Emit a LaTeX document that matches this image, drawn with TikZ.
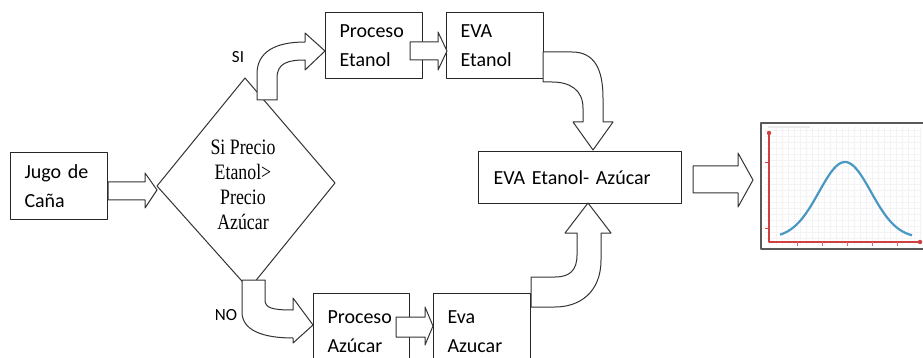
\documentclass[tikz,border=0pt]{standalone}
\usepackage{fontspec}
\setmainfont{Carlito}
\newfontfamily\timesfont{Liberation Serif}
\definecolor{axisred}{RGB}{208,64,64}
\definecolor{curveblue}{RGB}{72,152,195}
\definecolor{gridgray}{RGB}{243,243,246}
\begin{document}
\begin{tikzpicture}[x=1pt,y=-1pt,line join=round,
  box/.style={draw=black!85,line width=1pt,fill=white,align=left,inner xsep=14pt,
    anchor=north west,font=\fontsize{20}{29}\selectfont},
  fat/.style={draw=black!80,line width=1pt,fill=white},
  lbl/.style={font=\fontsize{17}{20}\selectfont,inner sep=0pt}]
\clip (0,0) rectangle (923,358);
\fill[white] (0,0) rectangle (923,358);

% process boxes
\node[box,text width=69pt,minimum height=67pt] (jugo) at (10,152) {Jugo de\\Caña};
\node[box,text width=69pt,minimum height=66pt] (proet) at (325,12) {Proceso\\Etanol};
\node[box,text width=69pt,minimum height=66pt] (evaet) at (446,12) {EVA\\Etanol};
\node[box,text width=68pt,minimum height=76pt] (proaz) at (313,293) {Proceso\\Azúcar};
\node[box,text width=69pt,minimum height=76pt] (evaaz) at (433,293) {Eva\\Azucar};
\node[box,inner xsep=15pt,text width=173pt,minimum height=52pt] (evatot) at (478,151) {EVA Etanol- Azúcar};

% decision diamond
\coordinate (dT) at (245,78);
\coordinate (dR) at (335,183);
\coordinate (dB) at (249,289);
\coordinate (dL) at (157,186);
\draw[draw=black!80,line width=1pt] (dT) -- (dR) -- (dB) -- (dL) -- cycle;
\node[align=center,inner sep=0pt,font=\timesfont\fontsize{22}{25}\selectfont] (cond) at (243,185)
  {\scalebox{0.81}[1]{Si Precio}\\\scalebox{0.81}[1]{Etanol>}\\
   \scalebox{0.81}[1]{Precio}\\\scalebox{0.81}[1]{Azúcar}};

% branch labels
\node[lbl] (si) at (238,57) {SI};
\node[lbl] (no) at (226,315) {NO};

% straight block arrows
\draw[fat] (jugo.east |- 0,182) -- (145,182) -- (145,173) -- (157,190) -- (145,208) -- (145,200) -- (jugo.east |- 0,200) -- cycle;
\draw[fat] (410,42) -- (438,42) -- (438,32) -- (447,51) -- (438,70) -- (438,60) -- (410,60) -- cycle;
\draw[fat] (396,317) -- (425,317) -- (425,307) -- (433,326) -- (425,345) -- (425,337) -- (396,337) -- cycle;
\draw[fat] (693,166) -- (738,166) -- (738,153) -- (753,180) -- (738,207) -- (738,193) -- (693,193) -- cycle;

% curved block arrows
\draw[fat] (257,100) -- (257,74) .. controls (257,52) and (275,42) .. (305,42)
  -- (305,33) -- (325,51) -- (305,70) -- (305,60)
  .. controls (288,60) and (277,63) .. (277,78) -- (277,100) -- cycle;
\draw[fat] (242,280) -- (265,280) -- (265,300) .. controls (265,308) and (272,310) .. (293,310)
  -- (293,298) -- (313,325) -- (293,343) -- (293,338)
  .. controls (262,338) and (242,330) .. (242,312) -- cycle;
\draw[fat] (543,52) -- (572,52) .. controls (595,52) and (603,70) .. (603,98) -- (603,122)
  -- (613,122) -- (593,150) -- (573,122) -- (583,122) -- (583,108)
  .. controls (583,90) and (570,82) .. (552,82) -- (543,82) -- cycle;
\draw[fat] (531,277) -- (555,277) .. controls (570,277) and (577,270) .. (577,255) -- (577,233)
  -- (565,233) -- (588,203) -- (611,233) -- (601,233) -- (601,260)
  .. controls (601,292) and (580,307) .. (555,307) -- (531,307) -- cycle;

% result chart: normal curve
\draw[draw=black!65,line width=2.2pt,fill=white] (761,123) rectangle (935,249);
\foreach \gx in {776,782,...,920} \draw[gridgray,line width=0.5pt] (\gx,127) -- (\gx,245);
\foreach \gy in {130,136,...,242} \draw[gridgray,line width=0.5pt] (765,\gy) -- (922,\gy);
\fill[black!8] (768,126) rectangle (810,128);
\draw[axisred,line width=2.4pt] (769,133) -- (769,242) -- (920,242);
\fill[axisred] (769,133) circle (2.2) (920,242) circle (2.2);
\foreach \ty in {162,228} \draw[axisred,line width=0.8pt] (765,\ty) -- (769,\ty);
\foreach \tx in {797,822,847,872,897} \draw[axisred!80,line width=0.8pt] (\tx,242) -- (\tx,246);
\draw[curveblue,line width=2.2pt,smooth,samples=60,domain=780:912]
  plot (\x,{238-76*exp(-((\x-845)/26)^2/2)});
\end{tikzpicture}
\end{document}
